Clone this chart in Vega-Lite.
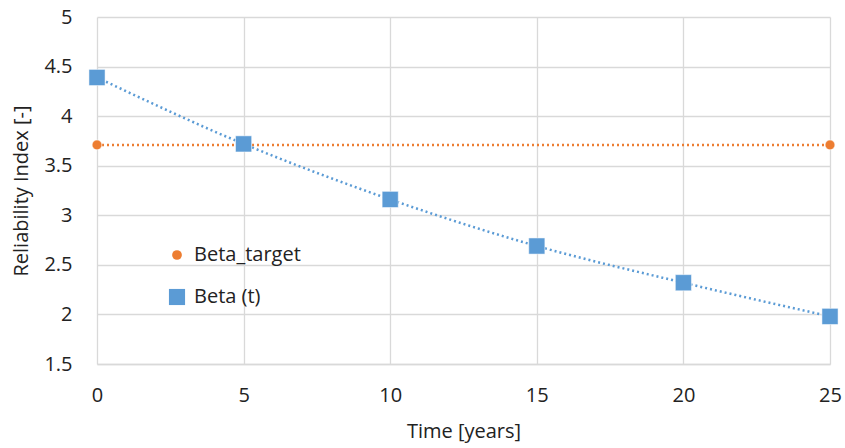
{
  "$schema": "https://vega.github.io/schema/vega-lite/v6.json",
  "width": 733,
  "height": 347,
  "autosize": {"type": "none"},
  "padding": {"left": 97, "top": 17, "right": 15, "bottom": 84},
  "background": "white",
  "config": {
    "font": "Open Sans",
    "view": {"stroke": null},
    "axis": {
      "labelFont": "Open Sans",
      "titleFont": "Open Sans",
      "labelFontSize": 20,
      "titleFontSize": 20,
      "labelColor": "#222222",
      "titleColor": "#222222",
      "titleFontWeight": "normal",
      "gridColor": "#d9d9d9",
      "gridWidth": 1.3,
      "domainColor": "#d9d9d9",
      "domainWidth": 1.3,
      "ticks": false
    }
  },
  "data": {
    "values": [
      {"series": "Beta_target", "time": 0, "value": 3.71},
      {"series": "Beta_target", "time": 25, "value": 3.71},
      {"series": "Beta (t)", "time": 0, "value": 4.39},
      {"series": "Beta (t)", "time": 5, "value": 3.72},
      {"series": "Beta (t)", "time": 10, "value": 3.16},
      {"series": "Beta (t)", "time": 15, "value": 2.69},
      {"series": "Beta (t)", "time": 20, "value": 2.32},
      {"series": "Beta (t)", "time": 25, "value": 1.98}
    ]
  },
  "encoding": {
    "x": {
      "field": "time", "type": "quantitative",
      "scale": {"domain": [0, 25], "nice": false},
      "axis": {"values": [0, 5, 10, 15, 20, 25], "title": "Time [years]", "labelPadding": 21, "titlePadding": 16, "labelFlush": false}
    },
    "y": {
      "field": "value", "type": "quantitative",
      "scale": {"domain": [1.5, 5], "nice": false, "zero": false},
      "axis": {"values": [1.5, 2, 2.5, 3, 3.5, 4, 4.5, 5], "title": "Reliability Index [-]", "labelPadding": 25, "titlePadding": 12, "format": "~g", "domain": false, "labelFlush": false}
    },
    "color": {
      "field": "series", "type": "nominal",
      "scale": {"domain": ["Beta_target", "Beta (t)"], "range": ["#ED7D31", "#5B9BD5"]},
      "legend": {
        "title": null,
        "orient": "none",
        "legendX": 70,
        "legendY": 228,
        "labelFont": "Open Sans",
        "labelFontSize": 20,
        "labelColor": "#222222",
        "symbolSize": 180,
        "symbolStrokeWidth": 0,
        "rowPadding": 22,
        "labelOffset": 7
      }
    }
  },
  "layer": [
    {
      "mark": {"type": "line", "strokeDash": [2, 3], "strokeWidth": 2.5, "interpolate": "monotone"},
      "encoding": {
        "detail": {"field": "series"}
      }
    },
    {
      "mark": {"type": "point", "filled": true, "opacity": 1, "stroke": "white", "strokeWidth": 0.5},
      "encoding": {
        "shape": {"field": "series", "type": "nominal",
          "scale": {"domain": ["Beta_target", "Beta (t)"], "range": ["circle", "square"]}},
        "size": {"field": "series", "type": "nominal", "legend": null,
          "scale": {"domain": ["Beta_target", "Beta (t)"], "range": [95, 260]}}
      }
    }
  ]
}
